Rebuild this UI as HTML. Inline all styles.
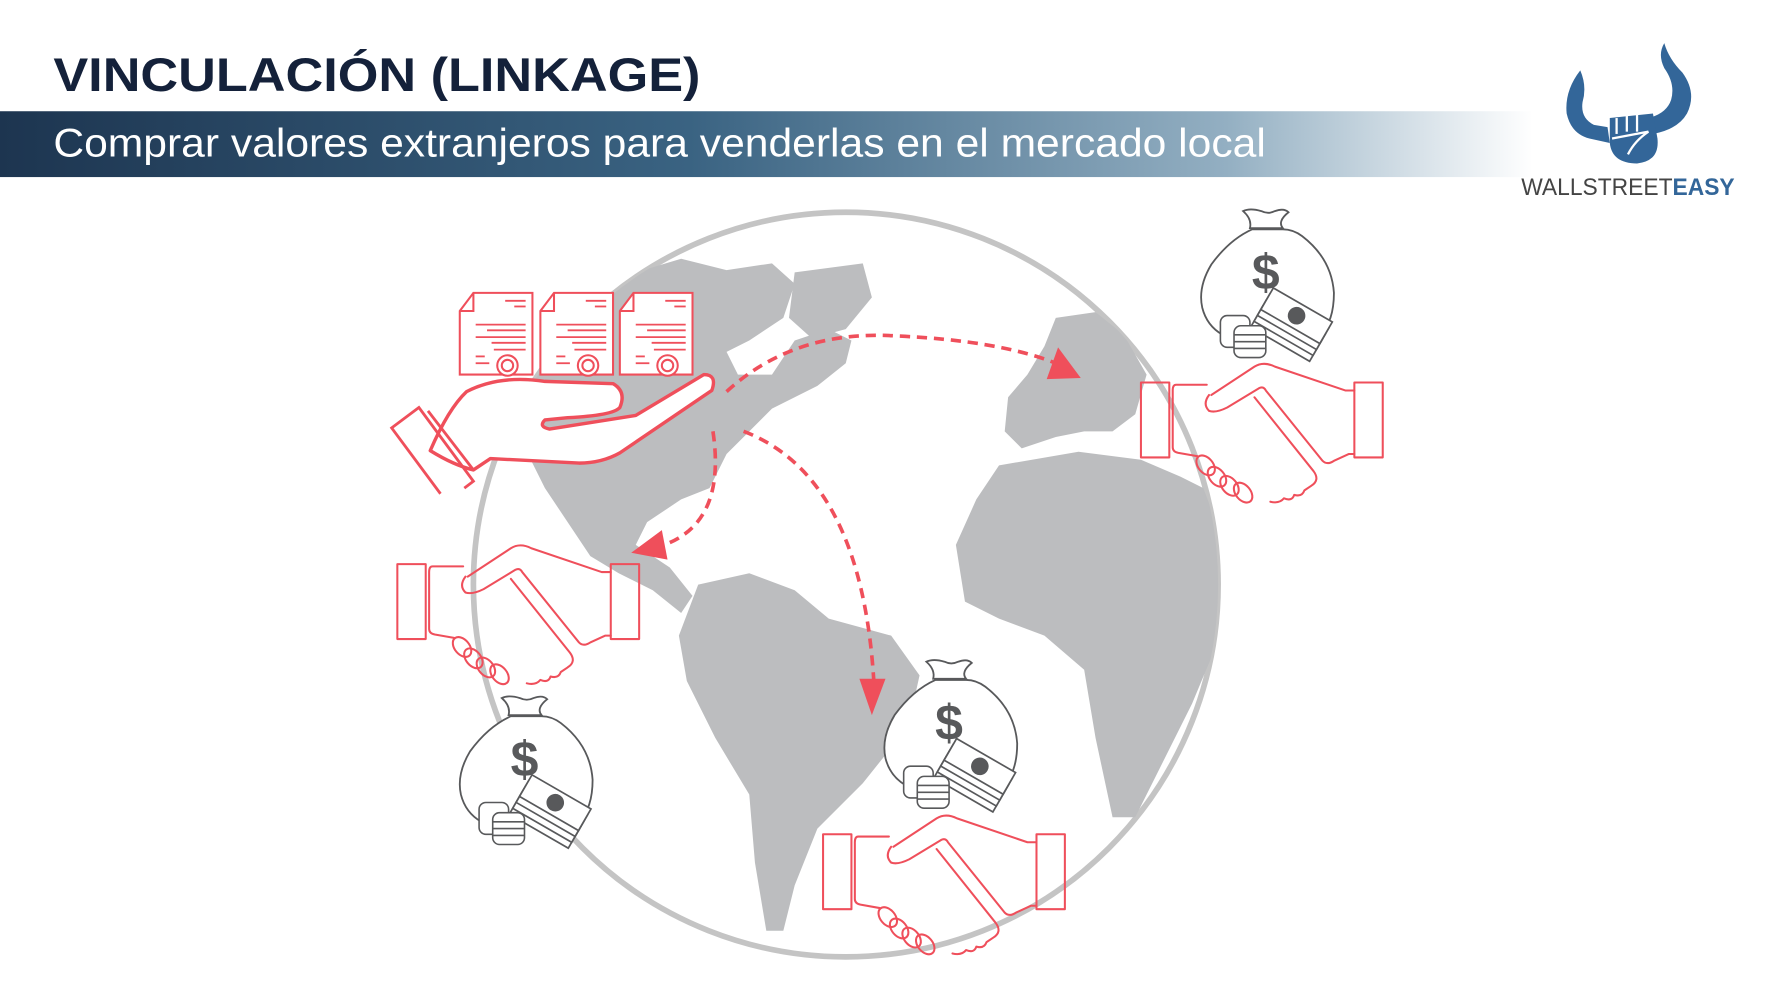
<!DOCTYPE html>
<html><head><meta charset="utf-8"><style>
html,body{margin:0;padding:0;background:#fff;}
svg{display:block;}
</style></head><body>
<svg width="1771" height="1000" viewBox="0 0 1560 881" preserveAspectRatio="none" xmlns="http://www.w3.org/2000/svg">
<defs>
<linearGradient id="bn" x1="0" x2="1" y1="0" y2="0">
<stop offset="0" stop-color="#1d3550"/><stop offset="0.45" stop-color="#3a6382"/><stop offset="0.8" stop-color="#93afc2"/><stop offset="1" stop-color="#ffffff"/>
</linearGradient>
<clipPath id="gc"><circle cx="745" cy="515" r="328"/></clipPath>
<g id="hs" fill="none" stroke="#ef4f5b" stroke-width="1.8" stroke-linejoin="round" stroke-linecap="round">
<rect x="0" y="17" width="25" height="66"/>
<rect x="188" y="17" width="25" height="66"/>
<path d="M58,19 L31,19 Q28,19 28,24 L28,74 Q28,78 33,79 L50,82"/>
<path d="M60,28 Q54,36 60,42 Q66,44 76,39 L104,22 Q108,20 110,24 L160,86 Q164,90 170,86 L183,80 L188,80"/>
<path d="M62,28 L100,3 Q108,-2 118,3 L180,24 L188,24"/>
<path d="M100,30 L152,95 Q158,103 150,108 L144,112 Q142,118 135,116 Q133,122 126,119 Q122,124 114,122"/>
<ellipse cx="57" cy="90" rx="10" ry="6.5" transform="rotate(50 57 90)"/>
<ellipse cx="67" cy="100" rx="10" ry="6.5" transform="rotate(50 67 100)"/>
<ellipse cx="78" cy="108" rx="10" ry="6.5" transform="rotate(50 78 108)"/>
<ellipse cx="90" cy="114" rx="10" ry="6.5" transform="rotate(50 90 114)"/>
</g>
<g id="bag">
<path d="M48,19 Q28,28 12,50 Q0,70 4,88 Q8,104 22,112 L108,112 Q120,100 120,75 Q118,45 92,25 Q84,19 75,19 Z" fill="#fff" stroke="#58595b" stroke-width="1.6"/>
<path d="M46,18 L75,18 Q70,12 80,4 Q76,0 68,3 Q62,6 56,3 Q46,0 40,3 Q48,10 46,18 Z" fill="#fff" stroke="#58595b" stroke-width="1.6"/>
<text x="60" y="72" font-family="Liberation Sans, sans-serif" font-weight="bold" font-size="44" fill="#58595b" text-anchor="middle">$</text>
<g transform="rotate(30 82 98)" fill="#fff" stroke="#58595b" stroke-width="1.5">
<rect x="55" y="100" width="60" height="22"/>
<rect x="55" y="94" width="60" height="22"/>
<rect x="55" y="88" width="60" height="22"/>
<rect x="55" y="82" width="60" height="22"/>
<circle cx="85" cy="93" r="7" fill="#58595b"/>
</g>
<g fill="#fff" stroke="#58595b" stroke-width="1.4">
<rect x="20" y="95" width="26" height="28" rx="6"/>
<rect x="32" y="104" width="28" height="28" rx="6"/>
<line x1="32" y1="112" x2="60" y2="112"/><line x1="32" y1="118" x2="60" y2="118"/><line x1="32" y1="124" x2="60" y2="124"/>
</g>
</g>
<g id="doc" fill="#fff" stroke="#ef4f5b" stroke-width="1.8">
<path d="M12,0 L64,0 L64,72 L0,72 L0,16 Z"/>
<path d="M0,16 L12,16 L12,0" fill="none"/>
<g stroke-width="1.6"><line x1="40" y1="7" x2="58" y2="7"/><line x1="48" y1="12" x2="58" y2="12"/>
<line x1="14" y1="28" x2="58" y2="28"/><line x1="24" y1="33" x2="58" y2="33"/><line x1="14" y1="39" x2="58" y2="39"/><line x1="28" y1="44" x2="58" y2="44"/><line x1="30" y1="50" x2="58" y2="50"/>
<line x1="14" y1="62" x2="26" y2="62"/><line x1="14" y1="56" x2="22" y2="56"/></g>
<circle cx="42" cy="64" r="9"/><circle cx="42" cy="64" r="5"/>
</g>
</defs>

<text x="47" y="80" font-family="Liberation Sans, sans-serif" font-weight="bold" font-size="42" fill="#14213a" textLength="570" lengthAdjust="spacingAndGlyphs">VINCULACIÓN (LINKAGE)</text>
<rect x="0" y="98" width="1350" height="58" fill="url(#bn)"/>
<text x="47" y="138" font-family="Liberation Sans, sans-serif" font-size="35" fill="#fff" textLength="1068" lengthAdjust="spacingAndGlyphs">Comprar valores extranjeros para venderlas en el mercado local</text>

<!-- logo -->
<g fill="#336699">
<path d="M1392,62 Q1378,80 1380,100 Q1384,118 1400,122 L1418,126 L1416,112 L1404,110 Q1392,104 1394,90 Q1398,76 1392,62 Z"/>
<path d="M1466,38 Q1470,52 1482,64 Q1495,82 1486,100 Q1478,114 1456,118 L1452,104 Q1468,100 1472,88 Q1476,74 1466,60 Q1460,48 1466,38 Z"/>
<path d="M1418,126 L1418,104 L1456,100 L1460,122 Q1462,142 1442,144 Q1420,144 1418,126 Z"/>
</g>
<g stroke="#fff" stroke-width="2" fill="none"><line x1="1424" y1="104" x2="1424" y2="118"/><line x1="1433" y1="100" x2="1433" y2="116"/><line x1="1442" y1="100" x2="1442" y2="116"/><path d="M1420,122 L1452,116 Q1440,124 1434,136"/></g>
<text x="1340" y="172" font-family="Liberation Sans, sans-serif" font-size="21" fill="#444" textLength="188" lengthAdjust="spacingAndGlyphs">WALLSTREET<tspan fill="#336699" font-weight="bold">EASY</tspan></text>

<!-- globe -->
<circle cx="745" cy="515" r="328" fill="none" stroke="#c4c4c4" stroke-width="5"/>
<g clip-path="url(#gc)" fill="#bcbdbf">
<path d="M470,300 L560,240 L600,228 L640,238 L680,232 L700,250 L690,280 L660,300 L640,310 L650,330 L680,330 L700,300 L730,290 L750,300 L745,320 L720,340 L700,350 L680,360 L660,380 L640,400 L625,430 L600,440 L570,460 L560,480 L590,500 L610,525 L600,540 L575,520 L545,505 L520,490 L500,460 L480,430 L465,400 L440,390 L420,360 Z"/>
<path d="M700,240 L760,232 L768,262 L745,290 L715,298 L695,280 Z"/>
<path d="M615,515 L660,505 L700,520 L730,545 L785,560 L810,595 L800,640 L760,690 L720,730 L700,780 L690,820 L675,820 L665,760 L660,700 L630,650 L605,600 L598,560 Z"/>
<path d="M930,280 L965,275 L990,295 L1010,330 L1000,365 L980,380 L955,380 L930,385 L900,395 L885,380 L888,350 L905,330 L920,305 Z"/>
<path d="M880,410 L950,398 L1005,405 L1040,420 L1060,430 L1075,470 L1075,560 L1050,620 L1020,680 L1000,720 L980,720 L965,650 L955,590 L920,560 L880,545 L850,530 L842,480 L860,440 Z"/>
</g>

<!-- arrows -->
<g fill="none" stroke="#ef4f5b" stroke-width="3.2" stroke-dasharray="9 6">
<path d="M640,345 Q700,290 790,296 Q880,300 930,320"/>
<path d="M628,380 Q640,460 585,480"/>
<path d="M655,380 Q760,420 770,605"/>
</g>
<g fill="#ef4f5b">
<path d="M952,333 L922,334 L932,306 Z"/>
<path d="M556,487 L583,467 L588,493 Z"/>
<path d="M768,630 L757,598 L780,598 Z"/>
</g>

<!-- certificates and hand -->
<use href="#doc" x="405" y="258"/>
<use href="#doc" x="476" y="258"/>
<use href="#doc" x="546" y="258"/>
<path d="M379,397 Q395,360 411,345 Q440,330 480,336 L540,338 Q552,345 546,359 Q540,366 500,368 L480,370 Q474,376 484,378 L560,366 L620,330 Q632,330 627,344 L546,399 Q530,408 510,408 L432,404 L417,414 Q400,410 379,397 Z" fill="#fff" stroke="#ef4f5b" stroke-width="3" stroke-linejoin="round"/>
<line x1="377" y1="362" x2="417" y2="414" stroke="#ef4f5b" stroke-width="2.5"/>
<polyline points="409,430 417,424 369,359 345,377 388,435" fill="none" stroke="#ef4f5b" stroke-width="2.5"/>

<!-- handshakes -->
<use href="#hs" x="1005" y="320"/>
<use href="#hs" x="350" y="480"/>
<use href="#hs" x="725" y="718"/>

<!-- bags -->
<use href="#bag" x="1055" y="183"/>
<use href="#bag" x="402" y="612"/>
<use href="#bag" x="776" y="580"/>
</svg>
</body></html>
